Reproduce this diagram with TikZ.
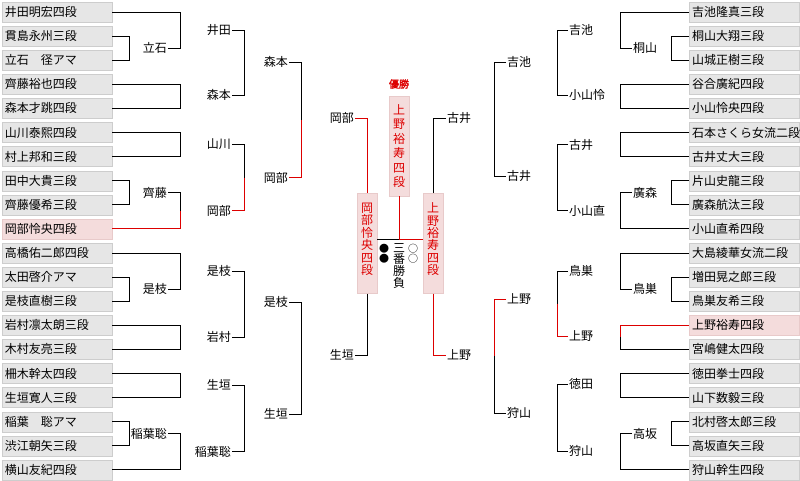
\documentclass[tikz,border=0pt]{standalone}
\usepackage{fontspec}
\setmainfont{Noto Sans CJK JP}
\newfontfamily\cjkb[FakeBold=2]{Noto Sans CJK JP}
\usetikzlibrary{calc}
\definecolor{bx}{HTML}{E6E6E6}
\definecolor{bxd}{HTML}{CDCDCD}
\definecolor{pk}{HTML}{F4DCDC}
\definecolor{pkd}{HTML}{E8CACA}
\definecolor{rr}{HTML}{DD0000}
\begin{document}
\begin{tikzpicture}[x=1pt,y=-1pt,
 ent/.style={draw=bxd,fill=bx,minimum width=110pt,minimum height=20pt,text width=104pt,inner xsep=3pt,inner ysep=0pt,align=left,font=\fontsize{12}{12}\selectfont},
 entw/.style={ent,fill=pk,draw=pkd},
 lab/.style={inner sep=1pt,font=\fontsize{12}{12}\selectfont},
 ln/.style={line width=1pt,black},
 rd/.style={line width=1pt,rr},
 vbox/.style={fill=pk,draw=pkd,minimum width=20pt,minimum height=100pt,inner sep=0pt,align=center,text=rr,font=\fontsize{12}{12.4}\selectfont},
]
\useasboundingbox (0,0) rectangle (800,480);
\fill[white] (0,0) rectangle (800,480);
% columns
\coordinate (xa) at (129,0);
\coordinate (xb) at (180,0);
\coordinate (xc) at (244,0);
\coordinate (xd) at (301,0);
\coordinate (ya) at (671,0);
\coordinate (yb) at (620,0);
\coordinate (yc) at (557,0);
\coordinate (yd) at (494,0);
% left entries
\node[ent] (L1) at (57,12) {井田明宏四段};
\node[ent] (L2) at (57,36.1) {貫島永州三段};
\node[ent] (L3) at (57,60.2) {立石　径アマ};
\node[ent] (L4) at (57,84.3) {齊藤裕也四段};
\node[ent] (L5) at (57,108.4) {森本才跳四段};
\node[ent] (L6) at (57,132.5) {山川泰熙四段};
\node[ent] (L7) at (57,156.6) {村上邦和三段};
\node[ent] (L8) at (57,180.7) {田中大貴三段};
\node[ent] (L9) at (57,204.8) {齊藤優希三段};
\node[entw] (L10) at (57,228.9) {岡部怜央四段};
\node[ent] (L11) at (57,253.0) {高橋佑二郎四段};
\node[ent] (L12) at (57,277.1) {太田啓介アマ};
\node[ent] (L13) at (57,301.2) {是枝直樹三段};
\node[ent] (L14) at (57,325.3) {岩村凛太朗三段};
\node[ent] (L15) at (57,349.4) {木村友亮三段};
\node[ent] (L16) at (57,373.5) {柵木幹太四段};
\node[ent] (L17) at (57,397.6) {生垣寛人三段};
\node[ent] (L18) at (57,421.7) {稲葉　聡アマ};
\node[ent] (L19) at (57,445.8) {渋江朝矢三段};
\node[ent] (L20) at (57,469.9) {横山友紀四段};
% right entries
\node[ent] (R1) at (744,12) {吉池隆真三段};
\node[ent] (R2) at (744,36.1) {桐山大翔三段};
\node[ent] (R3) at (744,60.2) {山城正樹三段};
\node[ent] (R4) at (744,84.3) {谷合廣紀四段};
\node[ent] (R5) at (744,108.4) {小山怜央四段};
\node[ent] (R6) at (744,132.5) {石本さくら女流二段};
\node[ent] (R7) at (744,156.6) {古井丈大三段};
\node[ent] (R8) at (744,180.7) {片山史龍三段};
\node[ent] (R9) at (744,204.8) {廣森航汰三段};
\node[ent] (R10) at (744,228.9) {小山直希四段};
\node[ent] (R11) at (744,253.0) {大島綾華女流二段};
\node[ent] (R12) at (744,277.1) {増田晃之郎三段};
\node[ent] (R13) at (744,301.2) {鳥巣友希三段};
\node[entw] (R14) at (744,325.3) {上野裕寿四段};
\node[ent] (R15) at (744,349.4) {宮嶋健太四段};
\node[ent] (R16) at (744,373.5) {徳田拳士四段};
\node[ent] (R17) at (744,397.6) {山下数毅三段};
\node[ent] (R18) at (744,421.7) {北村啓太郎三段};
\node[ent] (R19) at (744,445.8) {高坂直矢三段};
\node[ent] (R20) at (744,469.9) {狩山幹生四段};
% left inner labels
\node[lab,anchor=east] (lTat) at (168,48.15) {立石};
\node[lab,anchor=east] (lSai) at (168,192.75) {齊藤};
\node[lab,anchor=east] (lKor) at (168,289.15) {是枝};
\node[lab,anchor=east] (lIna) at (168,433.75) {稲葉聡};
% left brackets
\draw[ln] (L2.east) -| (L3.east -| xa) -- (L3.east);
\draw[ln] (L1.east) -| (lTat.east -| xb) -- (lTat.east);
\draw[ln] (L4.east) -| (L5.east -| xb) -- (L5.east);
\draw[ln] (L6.east) -| (L7.east -| xb) -- (L7.east);
\draw[ln] (L8.east) -| (L9.east -| xa) -- (L9.east);
\coordinate (g4m) at ($(lSai.east -| xb)!0.5!(L10.east -| xb)$);
\draw[ln] (lSai.east) -| (g4m);
\draw[rd] (g4m) |- (L10.east);
\draw[ln] (L12.east) -| (L13.east -| xa) -- (L13.east);
\draw[ln] (L11.east) -| (lKor.east -| xb) -- (lKor.east);
\draw[ln] (L14.east) -| (L15.east -| xb) -- (L15.east);
\draw[ln] (L16.east) -| (L17.east -| xb) -- (L17.east);
\draw[ln] (L18.east) -| (L19.east -| xa) -- (L19.east);
\draw[ln] (lIna.east) -| (L20.east -| xb) -- (L20.east);
% left level 1
\node[lab,anchor=east] (a1) at (232,30) {井田};
\node[lab,anchor=east] (a2) at (232,95) {森本};
\node[lab,anchor=east] (a3) at (232,144.5) {山川};
\node[lab,anchor=east] (a4) at (232,210.8) {岡部};
\node[lab,anchor=east] (a5) at (232,271) {是枝};
\node[lab,anchor=east] (a6) at (232,337.3) {岩村};
\node[lab,anchor=east] (a7) at (232,385) {生垣};
\node[lab,anchor=east] (a8) at (232,451.8) {稲葉聡};
\draw[ln] (a1.east) -| (a2.east -| xc) -- (a2.east);
\coordinate (a34m) at ($(a3.east -| xc)!0.5!(a4.east -| xc)$);
\draw[ln] (a3.east) -| (a34m);
\draw[rd] (a34m) |- (a4.east);
\draw[ln] (a5.east) -| (a6.east -| xc) -- (a6.east);
\draw[ln] (a7.east) -| (a8.east -| xc) -- (a8.east);
% left level 2
\node[lab,anchor=east] (b1) at (289,62) {森本};
\node[lab,anchor=east] (b2) at (289,177.5) {岡部};
\node[lab,anchor=east] (b3) at (289,302) {是枝};
\node[lab,anchor=east] (b4) at (289,414) {生垣};
\coordinate (b12m) at ($(b1.east -| xd)!0.5!(b2.east -| xd)$);
\draw[ln] (b1.east) -| (b12m);
\draw[rd] (b12m) |- (b2.east);
\draw[ln] (b3.east) -| (b4.east -| xd) -- (b4.east);
% right inner labels
\node[lab,anchor=west] (rTk) at (632,48.15) {桐山};
\node[lab,anchor=west] (rHi) at (632,192.75) {廣森};
\node[lab,anchor=west] (rTo) at (632,289.15) {鳥巣};
\node[lab,anchor=west] (rTa) at (632,433.75) {高坂};
% right brackets
\draw[ln] (R2.west) -| (R3.west -| ya) -- (R3.west);
\draw[ln] (R1.west) -| (rTk.west -| yb) -- (rTk.west);
\draw[ln] (R4.west) -| (R5.west -| yb) -- (R5.west);
\draw[ln] (R6.west) -| (R7.west -| yb) -- (R7.west);
\draw[ln] (R8.west) -| (R9.west -| ya) -- (R9.west);
\draw[ln] (rHi.west) -| (R10.west -| yb) -- (R10.west);
\draw[ln] (R12.west) -| (R13.west -| ya) -- (R13.west);
\draw[ln] (R11.west) -| (rTo.west -| yb) -- (rTo.west);
\coordinate (r6m) at ($(R14.west -| yb)!0.5!(R15.west -| yb)$);
\draw[rd] (R14.west) -| (r6m);
\draw[ln] (r6m) |- (R15.west);
\draw[ln] (R16.west) -| (R17.west -| yb) -- (R17.west);
\draw[ln] (R18.west) -| (R19.west -| ya) -- (R19.west);
\draw[ln] (rTa.west) -| (R20.west -| yb) -- (R20.west);
% right level 1
\node[lab,anchor=west] (d1) at (568,30) {吉池};
\node[lab,anchor=west] (d2) at (568,95) {小山怜};
\node[lab,anchor=west] (d3) at (568,144.5) {古井};
\node[lab,anchor=west] (d4) at (568,210.8) {小山直};
\node[lab,anchor=west] (d5) at (568,271) {鳥巣};
\node[lab,anchor=west] (d6) at (568,336) {上野};
\node[lab,anchor=west] (d7) at (568,384) {徳田};
\node[lab,anchor=west] (d8) at (568,451) {狩山};
\draw[ln] (d1.west) -| (d2.west -| yc) -- (d2.west);
\draw[ln] (d3.west) -| (d4.west -| yc) -- (d4.west);
\coordinate (d56m) at ($(d5.west -| yc)!0.5!(d6.west -| yc)$);
\draw[ln] (d5.west) -| (d56m);
\draw[rd] (d56m) |- (d6.west);
\draw[ln] (d7.west) -| (d8.west -| yc) -- (d8.west);
% right level 2
\node[lab,anchor=west] (e1) at (506,62) {吉池};
\node[lab,anchor=west] (e2) at (506,176) {古井};
\node[lab,anchor=west] (e3) at (506,299) {上野};
\node[lab,anchor=west] (e4) at (506,413) {狩山};
\draw[ln] (e1.west) -| (e2.west -| yd) -- (e2.west);
\coordinate (e34m) at ($(e3.west -| yd)!0.5!(e4.west -| yd)$);
\draw[rd] (e3.west) -| (e34m);
\draw[ln] (e34m) |- (e4.west);
% centre
\node[lab,anchor=east] (c1) at (355,118) {岡部};
\node[lab,anchor=east] (c2) at (355,355) {生垣};
\node[lab,anchor=west] (c3) at (446,118) {古井};
\node[lab,anchor=west] (c4) at (446,355) {上野};
\node[vbox] (OKB) at (367,243.5) {岡\\部\\怜\\央\\四\\段\\[-3pt]\mbox{}};
\node[vbox] (UNB) at (433,243.5) {上\\野\\裕\\寿\\四\\段\\[-3pt]\mbox{}};
\node[vbox,font=\fontsize{12}{14.4}\selectfont] (WIN) at (399,146) {上\\野\\裕\\寿\\四\\段};
\node[inner sep=1pt,text=rr,font=\cjkb\fontsize{10}{10}\selectfont] (yusho) at (399,84) {優勝};
\draw[rd] (c1.east) -| (OKB.north);
\draw[ln] (OKB.south) |- (c2.east);
\draw[ln] (c3.west) -| (UNB.north);
\draw[rd] (UNB.south) |- (c4.west);
\coordinate (jc) at (399,239);
\draw[rd] (WIN.south) -- (jc);
\draw[ln] (OKB.east |- jc) -- (jc);
\draw[rd] (jc) -- (UNB.west |- jc);
\node[anchor=north,inner sep=0pt,align=center,font=\fontsize{12}{11.8}\selectfont] (sanban) at (399,243) {三\\番\\勝\\負};
\node[anchor=north,inner sep=0pt,align=center,font=\fontsize{10}{10}\selectfont] (kuro) at (384,244) {●\\●};
\node[anchor=north,inner sep=0pt,align=center,font=\fontsize{10}{10}\selectfont] (shiro) at (413,244) {○\\○};
\end{tikzpicture}
\end{document}
